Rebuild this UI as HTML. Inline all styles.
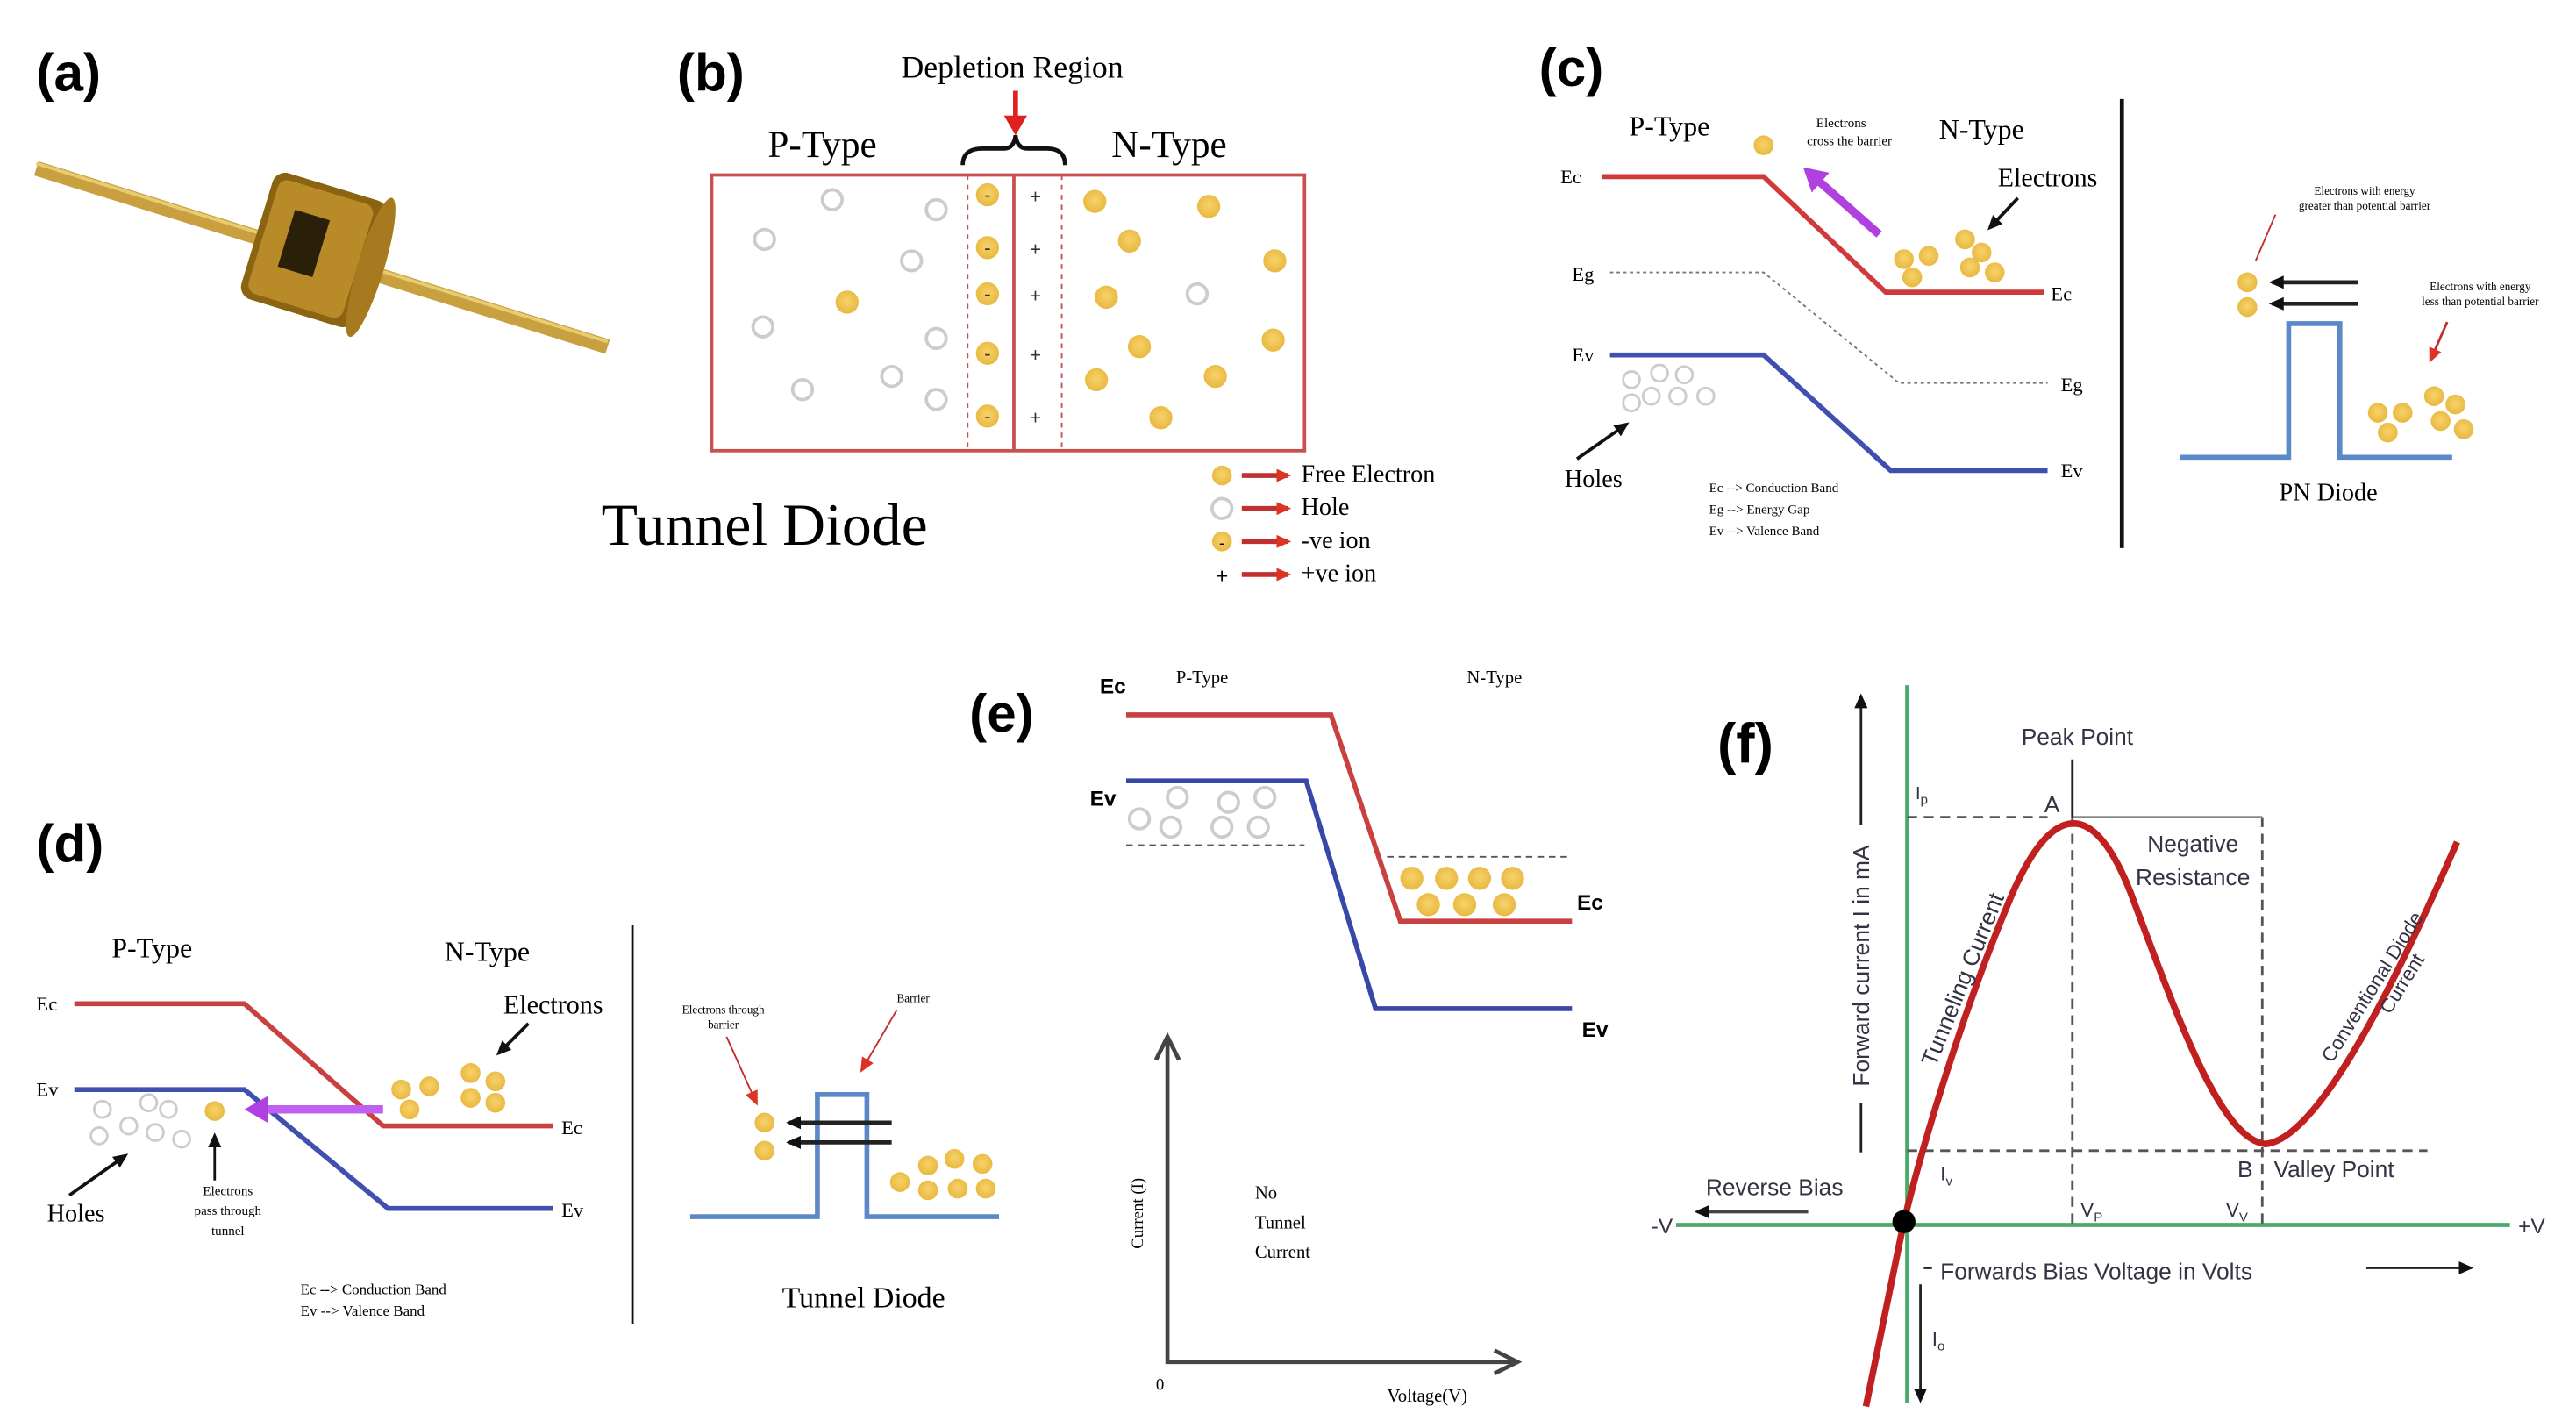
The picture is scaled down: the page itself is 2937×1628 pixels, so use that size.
<!DOCTYPE html>
<html><head><meta charset="utf-8"><style>
html,body{margin:0;padding:0;background:#fff;}
svg{display:block;}
.s{font-family:"Liberation Serif",serif;}
.a{font-family:"Liberation Sans",sans-serif;}
</style></head><body>
<svg width="2937" height="1628" viewBox="0 0 1560 865" preserveAspectRatio="none" xmlns="http://www.w3.org/2000/svg">
<defs>
<radialGradient id="el" cx="50%" cy="45%" r="55%"><stop offset="0" stop-color="#f7d26a"/><stop offset="1" stop-color="#e8b840"/></radialGradient>
<marker id="ar" markerUnits="userSpaceOnUse" markerWidth="10" markerHeight="10" refX="7" refY="5" orient="auto"><path d="M0,1 L9,5 L0,9 z" fill="#d32"/></marker>
<marker id="arb" markerUnits="userSpaceOnUse" markerWidth="14" markerHeight="14" refX="8" refY="7" orient="auto"><path d="M0,0 L12,7 L0,14 z" fill="#e02020"/></marker>
<marker id="ab" markerUnits="userSpaceOnUse" markerWidth="10" markerHeight="10" refX="7" refY="5" orient="auto"><path d="M0,1 L9,5 L0,9 z" fill="#111"/></marker>
<marker id="ap" markerUnits="userSpaceOnUse" markerWidth="16" markerHeight="16" refX="10" refY="8" orient="auto"><path d="M0,0 L14,8 L0,16 z" fill="#b040e0"/></marker>
<marker id="ag" markerUnits="userSpaceOnUse" markerWidth="10" markerHeight="10" refX="7" refY="5" orient="auto"><path d="M0,0 L10,5 L0,10 z" fill="#444"/></marker>
</defs>
<rect width="1560" height="865" fill="#fff"/>

<!-- (a) -->
<text x="22" y="55" class="a" font-size="32" font-weight="bold">(a)</text>
<line x1="22" y1="102" x2="368" y2="210" stroke="#c9a040" stroke-width="9"/>
<line x1="22" y1="99" x2="368" y2="207" stroke="#e8cc70" stroke-width="2"/>
<g transform="translate(192,152) rotate(17)">
<rect x="-38" y="-40" width="72" height="80" rx="8" fill="#8a6410"/>
<rect x="-34" y="-36" width="60" height="72" rx="6" fill="#b88a28"/>
<ellipse cx="34" cy="0" rx="8" ry="44" fill="#a87a20"/>
<rect x="-20" y="-20" width="22" height="36" fill="#2a200a"/>
</g>

<!-- (b) -->
<text x="410" y="55" class="a" font-size="32" font-weight="bold">(b)</text>
<text x="613" y="47" class="s" font-size="19" text-anchor="middle">Depletion Region</text>
<line x1="615" y1="55" x2="615" y2="78" stroke="#e02020" stroke-width="3" marker-end="url(#arb)"/>
<path d="M583,100 Q583,90 595,90 L608,90 Q614,90 615,82 Q616,90 622,90 L634,90 Q645,90 645,100" fill="none" stroke="#111" stroke-width="2.5"/>
<text x="498" y="95" class="s" font-size="23" text-anchor="middle">P-Type</text>
<text x="708" y="95" class="s" font-size="23" text-anchor="middle">N-Type</text>
<rect x="431" y="106" width="359" height="167" fill="none" stroke="#c85050" stroke-width="2"/>
<line x1="586" y1="106" x2="586" y2="273" stroke="#c85050" stroke-dasharray="3,3"/>
<line x1="643" y1="106" x2="643" y2="273" stroke="#c85050" stroke-dasharray="3,3"/>
<line x1="614" y1="106" x2="614" y2="273" stroke="#c85050" stroke-width="2"/>
<g fill="url(#el)">
<circle cx="598" cy="118" r="7"/><circle cx="598" cy="150" r="7"/><circle cx="598" cy="178" r="7"/><circle cx="598" cy="214" r="7"/><circle cx="598" cy="252" r="7"/>
<circle cx="663" cy="122" r="7"/><circle cx="732" cy="125" r="7"/><circle cx="684" cy="146" r="7"/><circle cx="772" cy="158" r="7"/><circle cx="670" cy="180" r="7"/><circle cx="690" cy="210" r="7"/><circle cx="771" cy="206" r="7"/><circle cx="664" cy="230" r="7"/><circle cx="736" cy="228" r="7"/><circle cx="703" cy="253" r="7"/><circle cx="513" cy="183" r="7"/>
</g>
<g fill="#333" font-size="12" class="a" text-anchor="middle"><text x="598" y="122">-</text><text x="598" y="154">-</text><text x="598" y="182">-</text><text x="598" y="218">-</text><text x="598" y="256">-</text>
<text x="627" y="123">+</text><text x="627" y="155">+</text><text x="627" y="183">+</text><text x="627" y="219">+</text><text x="627" y="257">+</text></g>
<g fill="none" stroke="#ccc" stroke-width="2">
<circle cx="504" cy="121" r="6"/><circle cx="567" cy="127" r="6"/><circle cx="463" cy="145" r="6"/><circle cx="552" cy="158" r="6"/><circle cx="462" cy="198" r="6"/><circle cx="567" cy="205" r="6"/><circle cx="540" cy="228" r="6"/><circle cx="486" cy="236" r="6"/><circle cx="567" cy="242" r="6"/><circle cx="725" cy="178" r="6"/>
</g>
<text x="463" y="330" class="s" font-size="36" text-anchor="middle">Tunnel Diode</text>
<circle cx="740" cy="288" r="6" fill="url(#el)"/><circle cx="740" cy="308" r="6" fill="none" stroke="#ccc" stroke-width="2"/><circle cx="740" cy="328" r="6" fill="url(#el)"/><text x="740" y="332" font-size="10" text-anchor="middle" class="a">-</text><text x="740" y="353" font-size="13" text-anchor="middle" class="a">+</text>
<g stroke="#c03030" stroke-width="3"><line x1="752" y1="288" x2="780" y2="288" marker-end="url(#ar)"/><line x1="752" y1="308" x2="780" y2="308" marker-end="url(#ar)"/><line x1="752" y1="328" x2="780" y2="328" marker-end="url(#ar)"/><line x1="752" y1="348" x2="780" y2="348" marker-end="url(#ar)"/></g>
<g class="s" font-size="15"><text x="788" y="292">Free Electron</text><text x="788" y="312">Hole</text><text x="788" y="332">-ve ion</text><text x="788" y="352">+ve ion</text></g>

<!-- (c) -->
<text x="932" y="52" class="a" font-size="32" font-weight="bold">(c)</text>
<text x="1011" y="82" class="s" font-size="17" text-anchor="middle">P-Type</text>
<text x="1200" y="84" class="s" font-size="17" text-anchor="middle">N-Type</text>
<text x="1115" y="77" class="s" font-size="8" text-anchor="middle">Electrons</text><text x="1120" y="88" class="s" font-size="8" text-anchor="middle">cross the barrier</text>
<circle cx="1068" cy="88" r="6" fill="url(#el)"/>
<polyline points="970,107 1068,107 1142,177 1238,177" fill="none" stroke="#d03a3a" stroke-width="3"/>
<polyline points="975,165 1068,165 1150,232 1240,232" fill="none" stroke="#777" stroke-width="1" stroke-dasharray="2,2"/>
<polyline points="975,215 1068,215 1145,285 1240,285" fill="none" stroke="#4050b0" stroke-width="3"/>
<line x1="1138" y1="142" x2="1095" y2="104" stroke="#b040e0" stroke-width="5" marker-end="url(#ap)"/>
<g class="s" font-size="12"><text x="945" y="111">Ec</text><text x="952" y="170">Eg</text><text x="952" y="219">Ev</text><text x="1242" y="182">Ec</text><text x="1248" y="237">Eg</text><text x="1248" y="289">Ev</text></g>
<text x="1240" y="113" class="s" font-size="16" text-anchor="middle">Electrons</text>
<line x1="1222" y1="120" x2="1205" y2="138" stroke="#111" stroke-width="2" marker-end="url(#ab)"/>
<g fill="url(#el)"><circle cx="1153" cy="157" r="6"/><circle cx="1168" cy="155" r="6"/><circle cx="1190" cy="145" r="6"/><circle cx="1200" cy="153" r="6"/><circle cx="1158" cy="168" r="6"/><circle cx="1193" cy="162" r="6"/><circle cx="1208" cy="165" r="6"/></g>
<g fill="none" stroke="#ccc" stroke-width="1.5"><circle cx="988" cy="230" r="5"/><circle cx="1005" cy="226" r="5"/><circle cx="1020" cy="227" r="5"/><circle cx="1000" cy="240" r="5"/><circle cx="1016" cy="240" r="5"/><circle cx="1033" cy="240" r="5"/><circle cx="988" cy="244" r="5"/></g>
<text x="965" y="295" class="s" font-size="15" text-anchor="middle">Holes</text>
<line x1="955" y1="278" x2="985" y2="257" stroke="#111" stroke-width="2" marker-end="url(#ab)"/>
<g class="s" font-size="8"><text x="1035" y="298">Ec --&gt; Conduction Band</text><text x="1035" y="311">Eg --&gt; Energy Gap</text><text x="1035" y="324">Ev --&gt; Valence Band</text></g>
<line x1="1285" y1="60" x2="1285" y2="332" stroke="#111" stroke-width="2.5"/>
<polyline points="1320,277 1386,277 1386,196 1417,196 1417,277 1485,277" fill="none" stroke="#5a88c8" stroke-width="3"/>
<g class="s" font-size="7" text-anchor="middle"><text x="1432" y="118">Electrons with energy</text><text x="1432" y="127">greater than potential barrier</text><text x="1502" y="176">Electrons with energy</text><text x="1502" y="185">less than potential barrier</text></g>
<line x1="1378" y1="130" x2="1366" y2="158" stroke="#c03030" stroke-width="1"/>
<line x1="1482" y1="195" x2="1472" y2="218" stroke="#c03030" stroke-width="1.5" marker-end="url(#ar)"/>
<circle cx="1361" cy="171" r="6" fill="url(#el)"/><circle cx="1361" cy="186" r="6" fill="url(#el)"/>
<line x1="1428" y1="171" x2="1376" y2="171" stroke="#222" stroke-width="2.5" marker-end="url(#ab)"/>
<line x1="1428" y1="184" x2="1376" y2="184" stroke="#222" stroke-width="2.5" marker-end="url(#ab)"/>
<g fill="url(#el)"><circle cx="1440" cy="250" r="6"/><circle cx="1455" cy="250" r="6"/><circle cx="1446" cy="262" r="6"/><circle cx="1474" cy="240" r="6"/><circle cx="1487" cy="245" r="6"/><circle cx="1478" cy="255" r="6"/><circle cx="1492" cy="260" r="6"/></g>
<text x="1410" y="303" class="s" font-size="15" text-anchor="middle">PN Diode</text>

<!-- (d) -->
<text x="22" y="522" class="a" font-size="32" font-weight="bold">(d)</text>
<text x="92" y="580" class="s" font-size="17" text-anchor="middle">P-Type</text>
<text x="295" y="582" class="s" font-size="17" text-anchor="middle">N-Type</text>
<polyline points="45,608 148,608 232,682 335,682" fill="none" stroke="#c84040" stroke-width="3"/>
<polyline points="45,660 148,660 235,732 335,732" fill="none" stroke="#4050b0" stroke-width="3"/>
<line x1="232" y1="672" x2="152" y2="672" stroke="#c060f0" stroke-width="5" marker-end="url(#ap)"/>
<g class="s" font-size="12"><text x="22" y="612">Ec</text><text x="22" y="664">Ev</text><text x="340" y="687">Ec</text><text x="340" y="737">Ev</text></g>
<text x="335" y="614" class="s" font-size="16" text-anchor="middle">Electrons</text>
<line x1="320" y1="620" x2="302" y2="638" stroke="#111" stroke-width="2" marker-end="url(#ab)"/>
<g fill="url(#el)"><circle cx="243" cy="660" r="6"/><circle cx="260" cy="658" r="6"/><circle cx="248" cy="672" r="6"/><circle cx="285" cy="650" r="6"/><circle cx="300" cy="655" r="6"/><circle cx="285" cy="665" r="6"/><circle cx="300" cy="668" r="6"/><circle cx="130" cy="673" r="6"/></g>
<g fill="none" stroke="#ccc" stroke-width="1.5"><circle cx="62" cy="672" r="5"/><circle cx="78" cy="682" r="5"/><circle cx="90" cy="668" r="5"/><circle cx="102" cy="672" r="5"/><circle cx="60" cy="688" r="5"/><circle cx="94" cy="686" r="5"/><circle cx="110" cy="690" r="5"/></g>
<text x="46" y="740" class="s" font-size="15" text-anchor="middle">Holes</text>
<line x1="42" y1="724" x2="76" y2="700" stroke="#111" stroke-width="2" marker-end="url(#ab)"/>
<line x1="130" y1="715" x2="130" y2="688" stroke="#111" stroke-width="1.5" marker-end="url(#ab)"/>
<g class="s" font-size="8" text-anchor="middle"><text x="138" y="724">Electrons</text><text x="138" y="736">pass through</text><text x="138" y="748">tunnel</text></g>
<g class="s" font-size="9"><text x="182" y="784">Ec --&gt; Conduction Band</text><text x="182" y="797">Ev --&gt; Valence Band</text></g>
<line x1="383" y1="560" x2="383" y2="802" stroke="#111" stroke-width="1.5"/>
<polyline points="418,737 495,737 495,663 525,663 525,737 605,737" fill="none" stroke="#5a88c8" stroke-width="3"/>
<g class="s" font-size="7" text-anchor="middle"><text x="438" y="614">Electrons through</text><text x="438" y="623">barrier</text><text x="553" y="607">Barrier</text></g>
<line x1="440" y1="628" x2="458" y2="668" stroke="#c03030" stroke-width="1" marker-end="url(#ar)"/>
<line x1="543" y1="612" x2="522" y2="648" stroke="#c03030" stroke-width="1" marker-end="url(#ar)"/>
<circle cx="463" cy="680" r="6" fill="url(#el)"/><circle cx="463" cy="697" r="6" fill="url(#el)"/>
<line x1="540" y1="680" x2="478" y2="680" stroke="#222" stroke-width="2.5" marker-end="url(#ab)"/>
<line x1="540" y1="692" x2="478" y2="692" stroke="#222" stroke-width="2.5" marker-end="url(#ab)"/>
<g fill="url(#el)"><circle cx="545" cy="716" r="6"/><circle cx="562" cy="706" r="6"/><circle cx="562" cy="721" r="6"/><circle cx="578" cy="702" r="6"/><circle cx="580" cy="720" r="6"/><circle cx="595" cy="705" r="6"/><circle cx="597" cy="720" r="6"/></g>
<text x="523" y="792" class="s" font-size="18" text-anchor="middle">Tunnel Diode</text>

<!-- (e) -->
<text x="587" y="443" class="a" font-size="32" font-weight="bold">(e)</text>
<text x="666" y="420" class="a" font-size="13" font-weight="bold">Ec</text>
<text x="728" y="414" class="s" font-size="11" text-anchor="middle">P-Type</text>
<text x="905" y="414" class="s" font-size="11" text-anchor="middle">N-Type</text>
<polyline points="682,433 806,433 848,558 952,558" fill="none" stroke="#c84040" stroke-width="3"/>
<polyline points="682,473 791,473 833,611 952,611" fill="none" stroke="#3848a8" stroke-width="3"/>
<line x1="682" y1="512" x2="790" y2="512" stroke="#555" stroke-dasharray="4,3"/>
<line x1="840" y1="519" x2="952" y2="519" stroke="#555" stroke-dasharray="4,3"/>
<text x="660" y="488" class="a" font-size="13" font-weight="bold">Ev</text>
<g fill="none" stroke="#ccc" stroke-width="2"><circle cx="690" cy="496" r="6"/><circle cx="713" cy="483" r="6"/><circle cx="744" cy="486" r="6"/><circle cx="766" cy="483" r="6"/><circle cx="709" cy="501" r="6"/><circle cx="740" cy="501" r="6"/><circle cx="762" cy="501" r="6"/></g>
<g fill="url(#el)"><circle cx="855" cy="532" r="7"/><circle cx="876" cy="532" r="7"/><circle cx="896" cy="532" r="7"/><circle cx="916" cy="532" r="7"/><circle cx="865" cy="548" r="7"/><circle cx="887" cy="548" r="7"/><circle cx="911" cy="548" r="7"/></g>
<text x="955" y="551" class="a" font-size="13" font-weight="bold">Ec</text>
<text x="958" y="628" class="a" font-size="13" font-weight="bold">Ev</text>
<polyline points="707,630 707,825 918,825" fill="none" stroke="#444" stroke-width="2.5"/>
<path d="M700,642 L707,628 L714,642" fill="none" stroke="#444" stroke-width="2.5"/>
<path d="M905,818 L919,825 L905,832" fill="none" stroke="#444" stroke-width="2.5"/>
<text transform="translate(692,735) rotate(-90)" class="s" font-size="10" text-anchor="middle">Current (I)</text>
<g class="s" font-size="11"><text x="760" y="726">No</text><text x="760" y="744">Tunnel</text><text x="760" y="762">Current</text></g>
<text x="700" y="842" class="s" font-size="10">0</text>
<text x="840" y="849" class="s" font-size="11">Voltage(V)</text>

<!-- (f) -->
<text x="1040" y="462" class="a" font-size="34" font-weight="bold">(f)</text>
<line x1="1155" y1="415" x2="1155" y2="850" stroke="#4aaa6a" stroke-width="2.5"/>
<line x1="1015" y1="742" x2="1520" y2="742" stroke="#4aaa6a" stroke-width="2.5"/>
<text x="1000" y="747" class="a" font-size="13" fill="#334">-V</text>
<text x="1525" y="747" class="a" font-size="13" fill="#334">+V</text>
<g stroke="#555" stroke-width="1.5" stroke-dasharray="6,4" fill="none">
<line x1="1155" y1="495" x2="1240" y2="495"/>
<line x1="1255" y1="495" x2="1255" y2="742"/>
<line x1="1370" y1="495" x2="1370" y2="742"/>
<line x1="1155" y1="697" x2="1470" y2="697"/>
</g>
<line x1="1255" y1="495" x2="1370" y2="495" stroke="#888" stroke-width="1.5"/>
<line x1="1255" y1="460" x2="1255" y2="495" stroke="#222" stroke-width="1.5"/>
<path d="M1130,852 L1153,740 C1165,690 1190,610 1215,550 C1235,500 1262,470 1290,540 C1320,620 1345,690 1372,693 C1400,690 1440,620 1488,510" fill="none" stroke="#c02020" stroke-width="4"/>
<circle cx="1153" cy="740" r="7" fill="#000"/>
<g class="a" fill="#334" font-size="14">
<text x="1258" y="451" text-anchor="middle">Peak Point</text>
<text x="1238" y="492">A</text>
<text x="1160" y="484" font-size="11">I<tspan font-size="8" dy="3">p</tspan></text>
<text x="1328" y="516" text-anchor="middle">Negative</text>
<text x="1328" y="536" text-anchor="middle">Resistance</text>
<text x="1355" y="713">B</text>
<text x="1377" y="713">Valley Point</text>
<text x="1175" y="715" font-size="12">I<tspan font-size="8" dy="3">v</tspan></text>
<text x="1260" y="737" font-size="12">V<tspan font-size="8" dy="3">P</tspan></text>
<text x="1348" y="737" font-size="12">V<tspan font-size="8" dy="3">V</tspan></text>
<text x="1033" y="724">Reverse Bias</text>
<text x="1175" y="775">Forwards Bias Voltage in Volts</text>
<text x="1170" y="815" font-size="12">I<tspan font-size="8" dy="3">o</tspan></text>
<text transform="translate(1132,585) rotate(-90)" text-anchor="middle">Forward current I in mA</text>
<text transform="translate(1193,595) rotate(-68)" text-anchor="middle">Tunneling Current</text>
<text transform="translate(1440,600) rotate(-58)" text-anchor="middle" font-size="12">Conventional Diode</text>
<text transform="translate(1458,598) rotate(-58)" text-anchor="middle" font-size="12">Current</text>
</g>
<line x1="1127" y1="500" x2="1127" y2="422" stroke="#222" stroke-width="1.5" marker-end="url(#ab)"/>
<line x1="1127" y1="668" x2="1127" y2="698" stroke="#222" stroke-width="1.5"/>
<line x1="1095" y1="734" x2="1028" y2="734" stroke="#444" stroke-width="2" marker-end="url(#ab)"/>
<line x1="1165" y1="768" x2="1170" y2="768" stroke="#222" stroke-width="1.5"/>
<line x1="1433" y1="768" x2="1496" y2="768" stroke="#222" stroke-width="1.5" marker-end="url(#ab)"/>
<line x1="1163" y1="778" x2="1163" y2="848" stroke="#222" stroke-width="1.5" marker-end="url(#ab)"/>
</svg>
</body></html>
